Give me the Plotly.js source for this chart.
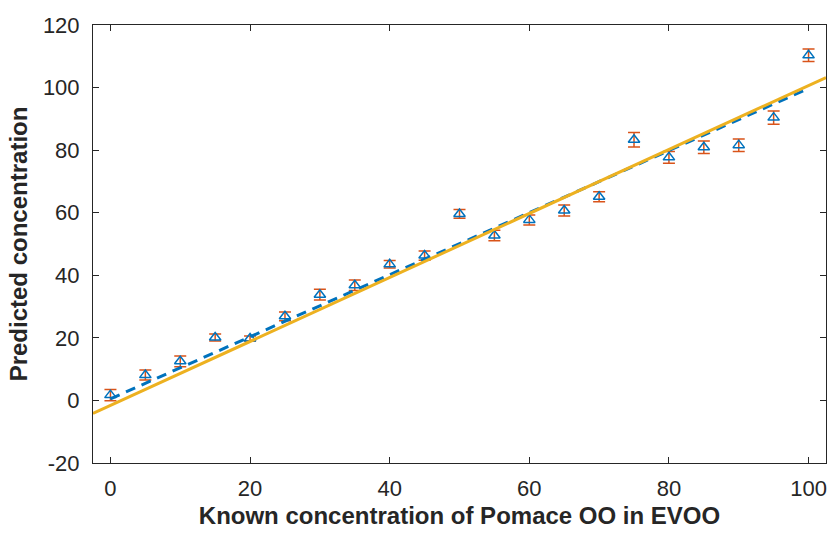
<!DOCTYPE html>
<html>
<head>
<meta charset="utf-8">
<script src="https://cdn.plot.ly/plotly-3.0.1.min.js"></script>
<style>html,body{margin:0;padding:0;background:#fff;}#chart{width:830px;height:533px;}</style>
</head>
<body>
<div id="chart"></div>
<script>
// Known concentration (x) and predicted concentration (y) with error
const knownConc = [0, 5, 10, 15, 20, 25, 30, 35, 40, 45, 50, 55, 60, 65, 70, 75, 80, 85, 90, 95, 100];
const predictedConc = [1.7, 8.1, 12.5, 20.1, 19.8, 26.9, 33.8, 36.8, 43.5, 46.3, 59.6, 52.7, 57.7, 60.7, 65.1, 83.3, 77.7, 80.9, 81.6, 90.4, 110.3];
const predictedErr = [1.8, 1.6, 1.7, 1.1, 0.8, 1.4, 1.7, 1.7, 1.2, 1.5, 1.4, 1.7, 1.6, 1.75, 1.6, 2.3, 1.9, 2.0, 2.0, 2.1, 2.0];
// Dashed reference line endpoints
const dashedX = [0, 100];
const dashedY = [0.5, 99.7];
// Solid fitted line endpoints
const fitX = [-2.5, 102.5];
const fitY = [-4.15, 103.2];
// Tick labels
const xTickVals = [0, 20, 40, 60, 80, 100];
const xTickText = ['0', '20', '40', '60', '80', '100'];
const yTickVals = [-20, 0, 20, 40, 60, 80, 100, 120];
const yTickText = ['-20', '0', '20', '40', '60', '80', '100', '120'];

const textColor = '#262626';
const fontFamily = 'Liberation Sans, Arial, sans-serif';
const traces = [
  {
    x: knownConc, y: predictedConc, type: 'scatter', mode: 'markers',
    marker: {symbol: 'triangle-up-open', size: 10, color: '#0072BD', line: {width: 1.5, color: '#0072BD'}},
    error_y: {type: 'data', array: predictedErr, visible: true, color: '#D95319', thickness: 1.5, width: 6},
    showlegend: false, hoverinfo: 'x+y'
  },
  {
    x: dashedX, y: dashedY, type: 'scatter', mode: 'lines',
    line: {color: '#0072BD', width: 3, dash: '10px,7px'}, showlegend: false
  },
  {
    x: fitX, y: fitY, type: 'scatter', mode: 'lines',
    line: {color: '#EDB120', width: 3}, showlegend: false
  }
];

const axisCommon = {
  showgrid: false, zeroline: false, showline: true, linecolor: textColor, linewidth: 1,
  ticks: 'inside', ticklen: 6, tickwidth: 1, tickcolor: textColor, mirror: 'ticks',
  tickfont: {family: fontFamily, size: 22, color: textColor}
};

const layout = {
  width: 830, height: 533,
  margin: {l: 93, r: 4, t: 25, b: 70},
  paper_bgcolor: '#fff', plot_bgcolor: '#fff',
  xaxis: Object.assign({}, axisCommon, {
    range: [-2.5, 102.5], tickmode: 'array', tickvals: xTickVals, ticktext: xTickText,
    ticklabelstandoff: 6,
    title: {text: 'Known concentration of Pomace OO in EVOO', standoff: 6,
      font: {family: fontFamily, size: 24, color: textColor, weight: 'bold'}}
  }),
  yaxis: Object.assign({}, axisCommon, {
    range: [-20, 120], tickmode: 'array', tickvals: yTickVals, ticktext: yTickText,
    ticklabelstandoff: 8,
    title: {text: 'Predicted concentration', standoff: 8,
      font: {family: fontFamily, size: 24, color: textColor, weight: 'bold'}}
  })
};

Plotly.newPlot('chart', traces, layout, {displayModeBar: false, staticPlot: true});
</script>
</body>
</html>
